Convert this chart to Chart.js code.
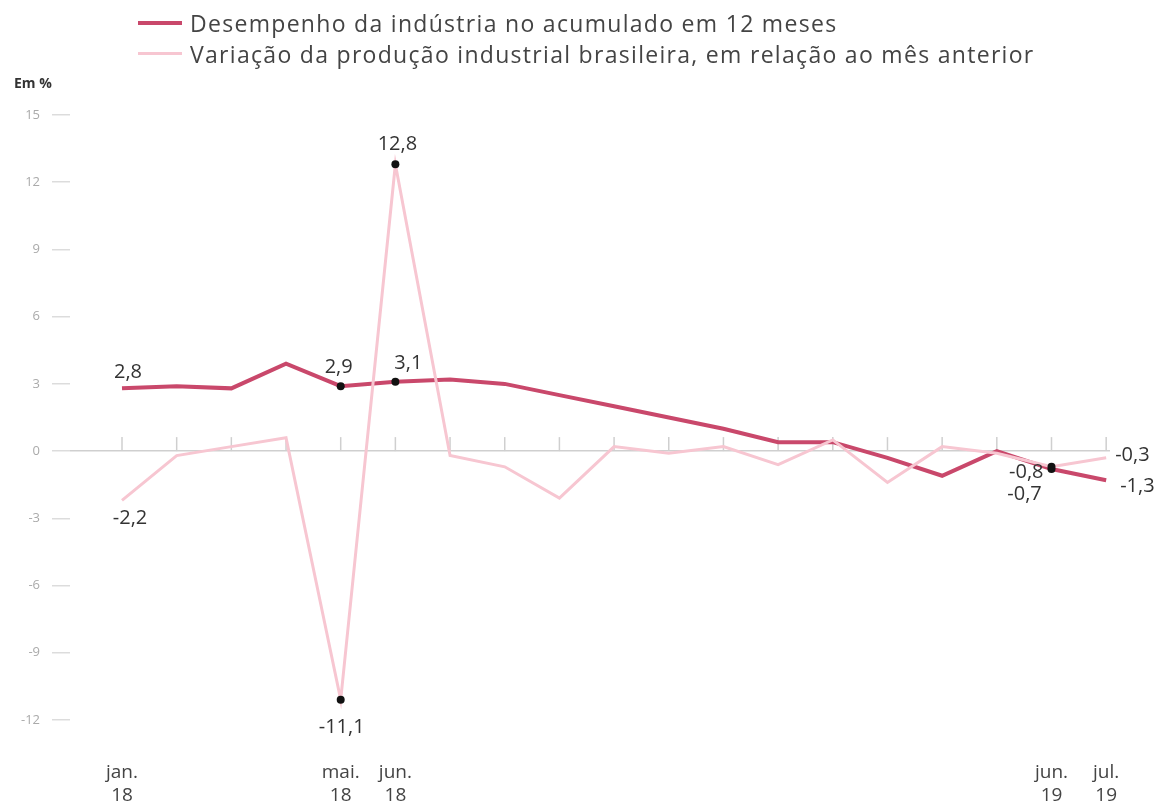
<!DOCTYPE html>
<html>
<head>
<meta charset="utf-8">
<script src="https://cdn.jsdelivr.net/npm/chart.js@4/dist/chart.umd.min.js"></script>
<style>
    body { margin: 0; background: #fff; font-family: "Open Sans", sans-serif; }
    #wrap { position: relative; width: 1164px; height: 807px; }
    #legend { position: absolute; left: 138px; top: 7px; color: #444; font-size: 23px; letter-spacing: 1.3px; }
    .item { display: flex; align-items: center; height: 31px; }
    .swatch { width: 44px; margin-right: 8px; }
    #unit { position: absolute; left: 14px; top: 73px; font-size: 14px; font-weight: bold; color: #333; }
</style>
</head>
<body>
<div id="wrap">
    <canvas id="chart" width="1164" height="807"></canvas>
    <div id="legend">
        <div class="item"><span class="swatch" style="height:4px;background:#c9486b"></span>Desempenho da indústria no acumulado em 12 meses</div>
        <div class="item"><span class="swatch" style="height:3px;background:#f7c6d1"></span>Variação da produção industrial brasileira, em relação ao mês anterior</div>
    </div>
    <div id="unit">Em %</div>
</div>
<script>
// months jan/18 .. jul/19
const months = ["jan.18", "fev.18", "mar.18", "abr.18", "mai.18", "jun.18", "jul.18", "ago.18", "set.18", "out.18", "nov.18", "dez.18",
    "jan.19", "fev.19", "mar.19", "abr.19", "mai.19", "jun.19", "jul.19"];
const acumulado12m = [2.8, 2.9, 2.8, 3.9, 2.9, 3.1, 3.2, 3.0, 2.5, 2.0, 1.5, 1.0, 0.4, 0.4, -0.3, -1.1, 0.0, -0.8, -1.3];
const variacaoMensal = [-2.2, -0.2, 0.2, 0.6, -11.1, 12.8, -0.2, -0.7, -2.1, 0.2, -0.1, 0.2, -0.6, 0.5, -1.4, 0.2, -0.1, -0.7, -0.3];
const shownMonths = [0, 4, 5, 17, 18];
const dotMonths = [4, 5, 17];
const yTicks = [15, 12, 9, 6, 3, 0, -3, -6, -9, -12];

const DARK = "#c9486b";
const LIGHT = "#f7c6d1";

function fmt(v) {
    return v.toFixed(1).replace(".", ",");
}

// value labels: dataset index, month index, offset and alignment
const valueLabels = [
    { ds: 1, i: 0, dx: 6, dy: -16, align: "center" },
    { ds: 1, i: 4, dx: -2, dy: -19, align: "center" },
    { ds: 1, i: 5, dx: 13, dy: -18, align: "center" },
    { ds: 1, i: 17, dx: -8, dy: 3, align: "right" },
    { ds: 1, i: 18, dx: 14, dy: 6, align: "left" },
    { ds: 0, i: 0, dx: 8, dy: 18, align: "center" },
    { ds: 0, i: 4, dx: 1, dy: 27, align: "center" },
    { ds: 0, i: 5, dx: 2, dy: -20, align: "center" },
    { ds: 0, i: 17, dx: -27, dy: 28, align: "center" },
    { ds: 0, i: 18, dx: 9, dy: -3, align: "left" },
];

const toPoints = (arr) => arr.map((v, i) => ({ x: i, y: v }));
const dotRadius = (ctx) => (dotMonths.includes(ctx.dataIndex) ? 4 : 0);

const extras = {
    id: "extras",
    beforeDatasetsDraw(chart) {
        const { ctx, scales } = chart;
        const y0 = scales.y.getPixelForValue(0);
        ctx.save();
        ctx.strokeStyle = "#cfcfcf";
        ctx.lineWidth = 1.5;
        months.forEach((m, i) => {
            const x = scales.x.getPixelForValue(i);
            ctx.beginPath();
            ctx.moveTo(x, y0 - 14);
            ctx.lineTo(x, y0);
            ctx.stroke();
        });
        ctx.restore();
    },
    afterDatasetsDraw(chart) {
        const { ctx } = chart;
        ctx.save();
        ctx.font = "20px 'Open Sans'";
        ctx.fillStyle = "#333";
        ctx.textBaseline = "middle";
        valueLabels.forEach((l) => {
            const pt = chart.getDatasetMeta(l.ds).data[l.i];
            const v = chart.data.datasets[l.ds].data[l.i].y;
            ctx.textAlign = l.align;
            ctx.fillText(fmt(v), pt.x + l.dx, pt.y + l.dy);
        });
        ctx.restore();
    },
};

new Chart(document.getElementById("chart"), {
    type: "line",
    data: {
        datasets: [
            {
                label: "Variação da produção industrial brasileira, em relação ao mês anterior",
                data: toPoints(variacaoMensal),
                borderColor: LIGHT,
                borderWidth: 3,
                pointRadius: dotRadius,
                pointBackgroundColor: "#111",
                pointBorderWidth: 0,
            },
            {
                label: "Desempenho da indústria no acumulado em 12 meses",
                data: toPoints(acumulado12m),
                borderColor: DARK,
                borderWidth: 4,
                pointRadius: dotRadius,
                pointBackgroundColor: "#111",
                pointBorderWidth: 0,
            },
        ],
    },
    options: {
        responsive: false,
        animation: false,
        layout: { padding: { top: 115, right: 54, left: 0, bottom: 0 } },
        plugins: {
            legend: { display: false },
            tooltip: { enabled: false },
        },
        scales: {
            x: {
                type: "linear",
                min: -0.951,
                max: 18.07,
                afterFit: (s) => { s.height = 87; },
                afterBuildTicks: (s) => { s.ticks = shownMonths.map((i) => ({ value: i })); },
                grid: { display: false, drawTicks: false },
                border: { display: false },
                ticks: {
                    padding: 41,
                    color: "#444",
                    font: { size: 19, family: "'Open Sans'" },
                    maxRotation: 0,
                    autoSkip: false,
                    callback: (v) => months[v].split(/(?<=\.)/),
                },
            },
            y: {
                min: -12,
                max: 15,
                afterFit: (s) => { s.width = 70; },
                afterBuildTicks: (s) => { s.ticks = yTicks.map((v) => ({ value: v })); },
                grid: {
                    color: (c) => (c.tick && c.tick.value === 0 ? "#cfcfcf" : "rgba(0,0,0,0)"),
                    tickColor: "#dcdcdc",
                    tickLength: 18,
                    lineWidth: 1.5,
                },
                border: { display: false },
                ticks: {
                    padding: 12,
                    color: "#aaa",
                    font: { size: 13, family: "'Open Sans'" },
                },
            },
        },
    },
    plugins: [extras],
});
</script>
</body>
</html>
